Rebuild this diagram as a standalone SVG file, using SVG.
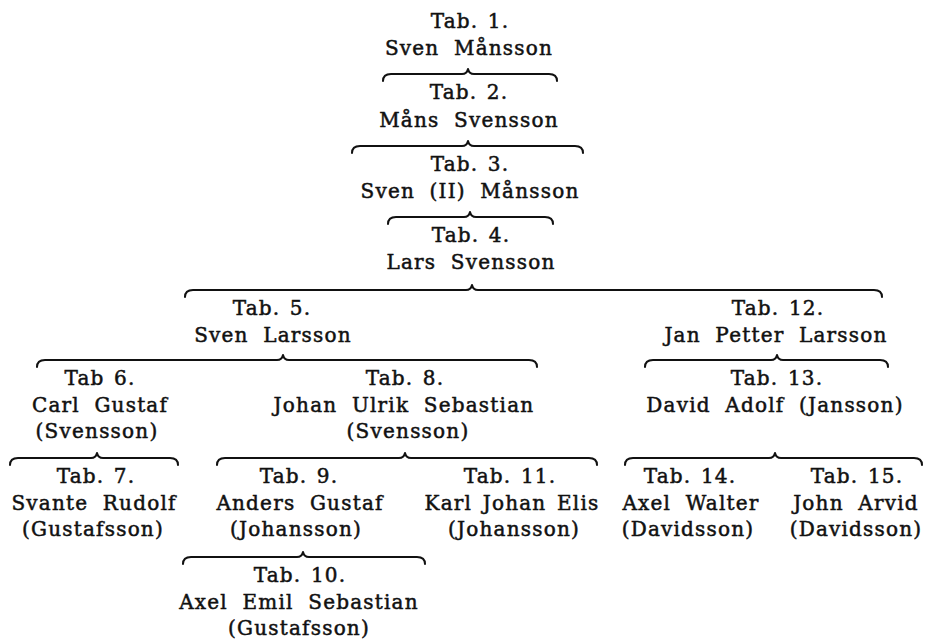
<svg xmlns="http://www.w3.org/2000/svg" width="929" height="639" viewBox="0 0 929 639">
<style>
text{font-family:"DejaVu Serif","Liberation Serif",serif;font-size:20px;fill:#111;stroke:#111;stroke-width:0.5;text-anchor:middle;letter-spacing:1.2px;word-spacing:7px}
text.t{word-spacing:2px}
.br{fill:none;stroke:#111;stroke-width:2;stroke-linecap:round;stroke-linejoin:round}
</style>
<rect width="929" height="639" fill="#fff"/>
<g id="connectors">
<path class="br" d="M383,81 Q383,74 391,74 L462,74 Q467,74 468,69 Q469,74 474,74 L549,74 Q557,74 557,81"/>
<path class="br" d="M352,153 Q352,146 360,146 L462,146 Q467,146 468,141 Q469,146 474,146 L575,146 Q583,146 583,153"/>
<path class="br" d="M388,224 Q388,217 396,217 L464,217 Q469,217 470,212 Q471,217 476,217 L545,217 Q553,217 553,224"/>
<path class="br" d="M185,297 Q185,290 193,290 L466,290 Q471,290 472,285 Q473,290 478,290 L874,290 Q882,290 882,297"/>
<path class="br" d="M37,367 Q37,360 45,360 L277,360 Q282,360 283,355 Q284,360 289,360 L529,360 Q537,360 537,367"/>
<path class="br" d="M645,367 Q645,360 653,360 L771,360 Q776,360 777,355 Q778,360 783,360 L880,360 Q888,360 888,367"/>
<path class="br" d="M10,465 Q10,458 18,458 L91,458 Q96,458 97,453 Q98,458 103,458 L170,458 Q178,458 178,465"/>
<path class="br" d="M217,465 Q217,458 225,458 L399,458 Q404,458 405,453 Q406,458 411,458 L589,458 Q597,458 597,465"/>
<path class="br" d="M625,465 Q625,458 633,458 L769,458 Q774,458 775,453 Q776,458 781,458 L914,458 Q922,458 922,465"/>
<path class="br" d="M183,564 Q183,557 191,557 L297,557 Q302,557 303,552 Q304,557 309,557 L417,557 Q425,557 425,564"/>
</g>
<g id="tab1"><text class="t" x="470" y="28">Tab. 1.</text><text x="469" y="55">Sven Månsson</text></g>
<g id="tab2"><text class="t" x="469" y="99">Tab. 2.</text><text x="469" y="127">Måns Svensson</text></g>
<g id="tab3"><text class="t" x="470" y="171">Tab. 3.</text><text x="470" y="198">Sven (II) Månsson</text></g>
<g id="tab4"><text class="t" x="471" y="242">Tab. 4.</text><text x="471" y="269">Lars Svensson</text></g>
<g id="tab5"><text class="t" x="272" y="315">Tab. 5.</text><text x="273" y="342">Sven Larsson</text></g>
<g id="tab12"><text class="t" x="778" y="315">Tab. 12.</text><text x="776" y="342">Jan Petter Larsson</text></g>
<g id="tab6"><text class="t" x="100" y="385">Tab 6.</text><text x="100" y="412">Carl Gustaf</text><text x="97" y="438">(Svensson)</text></g>
<g id="tab8"><text class="t" x="405" y="385">Tab. 8.</text><text x="404" y="412">Johan Ulrik Sebastian</text><text x="408" y="438">(Svensson)</text></g>
<g id="tab13"><text class="t" x="777" y="385">Tab. 13.</text><text x="775" y="412">David Adolf (Jansson)</text></g>
<g id="tab7"><text class="t" x="96" y="483">Tab. 7.</text><text x="94" y="510">Svante Rudolf</text><text x="93" y="536">(Gustafsson)</text></g>
<g id="tab9"><text class="t" x="299" y="483">Tab. 9.</text><text x="300" y="510">Anders Gustaf</text><text x="296" y="536">(Johansson)</text></g>
<g id="tab11"><text class="t" x="510" y="483">Tab. 11.</text><text x="512" y="510" style="word-spacing:3px">Karl Johan Elis</text><text x="514" y="536">(Johansson)</text></g>
<g id="tab14"><text class="t" x="690" y="483">Tab. 14.</text><text x="691" y="510">Axel Walter</text><text x="688" y="536">(Davidsson)</text></g>
<g id="tab15"><text class="t" x="857" y="483">Tab. 15.</text><text x="856" y="510">John Arvid</text><text x="856" y="536">(Davidsson)</text></g>
<g id="tab10"><text class="t" x="300" y="582">Tab. 10.</text><text x="299" y="609">Axel Emil Sebastian</text><text x="299" y="635">(Gustafsson)</text></g>
</svg>
